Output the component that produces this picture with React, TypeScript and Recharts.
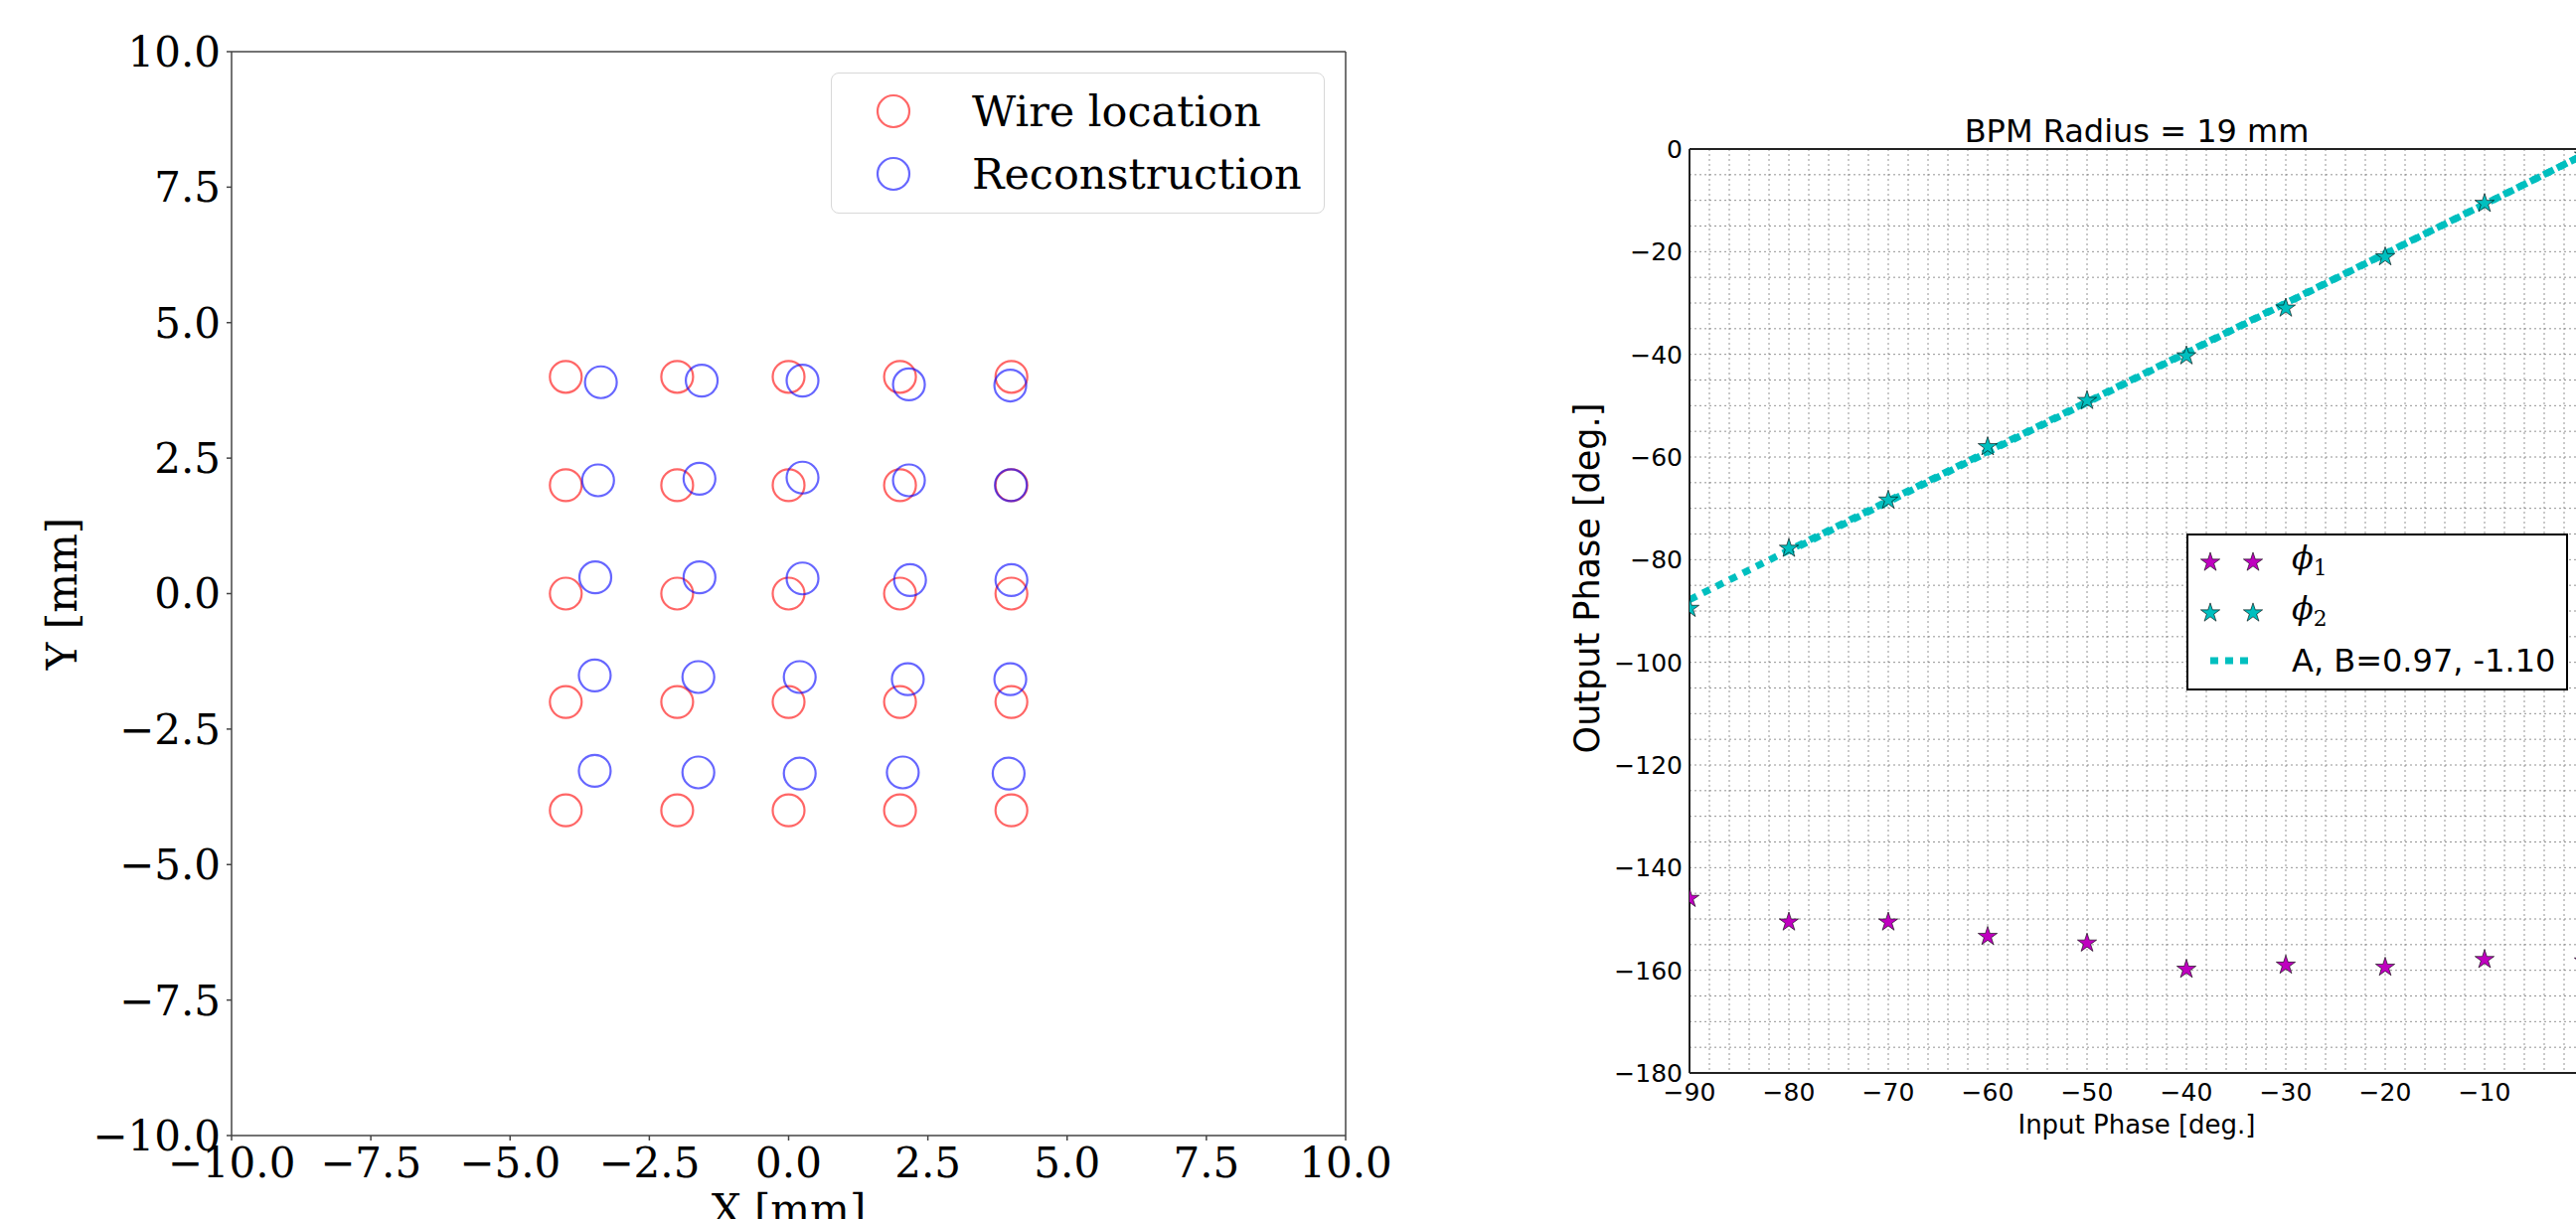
import React from "react";
import {
  ScatterChart,
  ComposedChart,
  Scatter,
  Line,
  XAxis,
  YAxis,
  ZAxis,
  CartesianGrid,
  ReferenceLine,
  Legend,
  Label,
  Symbols,
} from "recharts";

// ---- left panel: wire scan, positions in mm ----
const wireLocation = [
  { x: -4, y: 4 }, { x: -2, y: 4 }, { x: 0, y: 4 }, { x: 2, y: 4 }, { x: 4, y: 4 },
  { x: -4, y: 2 }, { x: -2, y: 2 }, { x: 0, y: 2 }, { x: 2, y: 2 }, { x: 4, y: 2 },
  { x: -4, y: 0 }, { x: -2, y: 0 }, { x: 0, y: 0 }, { x: 2, y: 0 }, { x: 4, y: 0 },
  { x: -4, y: -2 }, { x: -2, y: -2 }, { x: 0, y: -2 }, { x: 2, y: -2 }, { x: 4, y: -2 },
  { x: -4, y: -4 }, { x: -2, y: -4 }, { x: 0, y: -4 }, { x: 2, y: -4 }, { x: 4, y: -4 },
];

const reconstruction = [
  { x: -3.37, y: 3.9 }, { x: -1.56, y: 3.93 }, { x: 0.25, y: 3.93 }, { x: 2.16, y: 3.86 }, { x: 3.98, y: 3.84 },
  { x: -3.42, y: 2.09 }, { x: -1.6, y: 2.12 }, { x: 0.25, y: 2.14 }, { x: 2.16, y: 2.09 }, { x: 3.99, y: 2.0 },
  { x: -3.47, y: 0.3 }, { x: -1.6, y: 0.3 }, { x: 0.25, y: 0.28 }, { x: 2.18, y: 0.25 }, { x: 4.0, y: 0.25 },
  { x: -3.48, y: -1.51 }, { x: -1.62, y: -1.54 }, { x: 0.2, y: -1.54 }, { x: 2.14, y: -1.58 }, { x: 3.98, y: -1.58 },
  { x: -3.48, y: -3.27 }, { x: -1.62, y: -3.3 }, { x: 0.2, y: -3.32 }, { x: 2.05, y: -3.3 }, { x: 3.95, y: -3.32 },
];

const mmTicks = [-10, -7.5, -5, -2.5, 0, 2.5, 5, 7.5, 10];
const leftNames = ["Wire location", "Reconstruction"];

// ---- right panel: phase response ----
const inputPhase = [-90, -80, -70, -60, -50, -40, -30, -20, -10, 0];
const phi1 = [-146.0, -150.6, -150.6, -153.4, -154.7, -159.8, -159.0, -159.4, -157.9, -158.2];
const phi2 = [-89.5, -77.8, -68.4, -58.0, -49.0, -40.3, -31.0, -21.0, -10.6, -1.2];
const fitX = [-90, 0];
const fitY = [-87.8, -1.1];
// second copy of the fit drawn over the measured span (no legend entry)
const fitX2 = [-80, 0];
const fitY2 = [-78.4, -1.1];

const phaseTicksX = [-90, -80, -70, -60, -50, -40, -30, -20, -10, 0];
const phaseTicksY = [-180, -160, -140, -120, -100, -80, -60, -40, -20, 0];
const rightNames = ["\u03d51", "\u03d52", "A, B=0.97, -1.10"];

const range = (a: number, b: number, step: number) => {
  const out: number[] = [];
  for (let v = a; v <= b + 1e-9; v += step) out.push(v);
  return out;
};

const phi1Points = inputPhase.map((x, i) => ({ x, y: phi1[i] }));
const phi2Points = inputPhase.map((x, i) => ({ x, y: phi2[i] }));
const fitPoints = fitX.map((x, i) => ({ x, y: fitY[i] }));
const fitPoints2 = fitX2.map((x, i) => ({ x, y: fitY2[i] }));

const MAGENTA = "#bf00bf";
const CYAN = "#00bfbf";

const fmtMm = (v: number) => (v < 0 ? "\u2212" + Math.abs(v).toFixed(1) : v.toFixed(1));
const fmtDeg = (v: number) => (v < 0 ? "\u2212" + Math.abs(v) : String(v));

const ring = (color: string) => (props: any) => (
  <circle cx={props.cx} cy={props.cy} r={16} fill="none" stroke={color} strokeOpacity={0.6} strokeWidth={2.2} />
);

const RotatedTitle = ({ viewBox, value, dx, dy = 0, fontSize, fontFamily }: any) => {
  const cx = viewBox.x + dx;
  const cy = viewBox.y + viewBox.height / 2 + dy;
  return (
    <text
      x={cx}
      y={cy}
      transform={`rotate(-90 ${cx} ${cy})`}
      textAnchor="middle"
      dominantBaseline="central"
      fontSize={fontSize}
      fontFamily={fontFamily}
      fill="#000"
    >
      {value}
    </text>
  );
};

const ringColors: Record<string, string> = { "Wire location": "red", Reconstruction: "blue" };

const byOrder = (payload: any[], names: string[]) =>
  [...(payload || [])]
    .filter((e) => names.includes(e.value))
    .sort((a, b) => names.indexOf(a.value) - names.indexOf(b.value));

const LeftLegend = ({ payload }: any) => (
  <div
    style={{
      position: "relative",
      width: 497,
      height: 142,
      boxSizing: "border-box",
      border: "1.5px solid #d8d8d8",
      borderRadius: 8,
      background: "rgba(255,255,255,0.8)",
      fontFamily: "DejaVu Serif",
      fontSize: 43,
      color: "#000",
    }}
  >
    {byOrder(payload, leftNames).map((e: any, i: number) => (
      <div key={e.value} style={{ position: "absolute", left: 0, top: 38 + i * 63 - 30, height: 60, display: "flex", alignItems: "center" }}>
        <svg width={141} height={60} style={{ display: "block" }}>
          <circle cx={62} cy={30} r={16} fill="none" stroke={ringColors[e.value]} strokeOpacity={0.6} strokeWidth={2.2} />
        </svg>
        <span style={{ whiteSpace: "nowrap", lineHeight: "60px" }}>{e.value}</span>
      </div>
    ))}
  </div>
);

const PhaseName = ({ name }: { name: string }) => {
  if (name.startsWith("\u03d5")) {
    return (
      <span style={{ fontFamily: "DejaVu Serif", fontStyle: "italic" }}>
        {"\u03d5"}
        <sub style={{ fontSize: "0.68em", fontStyle: "normal", verticalAlign: "-0.3em" }}>{name.slice(1)}</sub>
      </span>
    );
  }
  return <span>{name}</span>;
};

const RightLegend = ({ payload }: any) => (
  <div
    style={{
      position: "relative",
      width: 384,
      height: 158,
      boxSizing: "border-box",
      border: "2px solid #000",
      background: "#fff",
      fontFamily: "DejaVu Sans",
      fontSize: 32,
      color: "#000",
    }}
  >
    {byOrder(payload, rightNames).map((e: any, i: number) => {
      const cy = [27, 78, 126][i];
      const isLine = e.type === "line";
      return (
        <div key={e.value} style={{ position: "absolute", left: 0, top: cy - 25, height: 50, display: "flex", alignItems: "center" }}>
          <svg width={104} height={50} style={{ display: "block" }}>
            {isLine ? (
              <line x1={22} y1={25} x2={65} y2={25} stroke={e.color} strokeWidth={7} strokeDasharray="8 7" />
            ) : (
              <>
                <Symbols type="star" size={115} cx={22} cy={25} fill={e.color} stroke="#000" strokeWidth={0.6} />
                <Symbols type="star" size={115} cx={65} cy={25} fill={e.color} stroke="#000" strokeWidth={0.6} />
              </>
            )}
          </svg>
          <span style={{ whiteSpace: "nowrap", lineHeight: "50px" }}>
            <PhaseName name={e.value} />
          </span>
        </div>
      );
    })}
  </div>
);

const serifTick = { fontSize: 42, fill: "#000", fontFamily: "DejaVu Serif" };
const sansTick = { fontSize: 25, fill: "#000", fontFamily: "DejaVu Sans" };

export default function App() {
  return (
    <div
      style={{
        position: "fixed",
        left: 0,
        top: 0,
        width: 2592,
        height: 1227,
        overflow: "hidden",
        background: "#fff",
      }}
    >
      <div style={{ position: "absolute", left: 0, top: 0 }}>
        <ScatterChart width={1400} height={1227} margin={{ top: 52, right: 46, bottom: 24, left: 133 }}>
          <XAxis
            type="number"
            dataKey="x"
            domain={[-10, 10]}
            ticks={mmTicks}
            interval={0}
            tickFormatter={fmtMm}
            tick={serifTick}
            height={60}
            tickSize={5}
            tickMargin={7}
            stroke="#444"
            strokeWidth={1.5}
          >
            <Label value="X [mm]" position="bottom" offset={-1} fontSize={42} fontFamily="DejaVu Serif" fill="#000" />
          </XAxis>
          <YAxis
            type="number"
            dataKey="y"
            domain={[-10, 10]}
            ticks={mmTicks}
            interval={0}
            tickFormatter={fmtMm}
            tick={serifTick}
            width={100}
            tickSize={5}
            tickMargin={6}
            stroke="#444"
            strokeWidth={1.5}
          >
            <Label
              content={(p: any) => <RotatedTitle viewBox={p.viewBox} value="Y [mm]" dx={-71} fontSize={42} fontFamily="DejaVu Serif" />}
            />
          </YAxis>
          <ReferenceLine y={10} stroke="#444" strokeWidth={1.5} />
          <ReferenceLine x={10} stroke="#444" strokeWidth={1.5} />
          <Scatter name="Wire location" data={wireLocation} fill="none" shape={ring("red")} isAnimationActive={false} />
          <Scatter name="Reconstruction" data={reconstruction} fill="none" shape={ring("blue")} isAnimationActive={false} />
          <Legend
            layout="vertical"
            align="center"
            verticalAlign="middle"
            content={<LeftLegend />}
            wrapperStyle={{ left: 836, top: 73, width: 497, height: 142 }}
          />
        </ScatterChart>
      </div>

      <div style={{ position: "absolute", left: 1400, top: 0 }}>
        <ComposedChart width={1300} height={1227} margin={{ top: 150, right: 100, bottom: 67, left: 200 }}>
          <CartesianGrid
            verticalValues={range(-90, 0, 2)}
            horizontalValues={range(-180, 0, 5)}
            stroke="#666"
            strokeOpacity={0.7}
            strokeDasharray="2 3"
          />
          <XAxis
            type="number"
            dataKey="x"
            domain={[-90, 0]}
            ticks={phaseTicksX}
            interval={0}
            allowDataOverflow
            tickFormatter={fmtDeg}
            tick={sansTick}
            tickLine={false}
            tickSize={0}
            tickMargin={10}
            height={80}
            stroke="#222"
            strokeWidth={2}
          >
            <Label value="Input Phase [deg.]" position="insideBottom" offset={19} fontSize={26} fontFamily="DejaVu Sans" fill="#000" />
          </XAxis>
          <YAxis
            type="number"
            dataKey="y"
            domain={[-180, 0]}
            ticks={phaseTicksY}
            interval={0}
            allowDataOverflow
            tickFormatter={fmtDeg}
            tick={sansTick}
            tickLine={false}
            tickSize={0}
            tickMargin={7}
            width={100}
            stroke="#222"
            strokeWidth={2}
          >
            <Label
              content={(p: any) => (
                <RotatedTitle viewBox={p.viewBox} value="Output Phase [deg.]" dx={-3} dy={-33} fontSize={35} fontFamily="DejaVu Sans" />
              )}
            />
          </YAxis>
          <ZAxis type="number" range={[115, 115]} />
          <ReferenceLine y={0} stroke="#222" strokeWidth={2}>
            <Label value="BPM Radius = 19 mm" position="top" offset={7} fontSize={32} fontFamily="DejaVu Sans" fill="#000" />
          </ReferenceLine>
          <ReferenceLine x={0} stroke="#222" strokeWidth={2} />
          <Line
            name="A, B=0.97, -1.10"
            data={fitPoints}
            dataKey="y"
            stroke={CYAN}
            strokeWidth={7}
            strokeDasharray="8 7"
            dot={false}
            activeDot={false}
            legendType="line"
            isAnimationActive={false}
          />
          <Line
            name="fit (measured span)"
            data={fitPoints2}
            dataKey="y"
            stroke={CYAN}
            strokeWidth={7}
            strokeDasharray="8 7"
            strokeDashoffset={3}
            dot={false}
            activeDot={false}
            legendType="none"
            isAnimationActive={false}
          />
          <Scatter name={"\u03d51"} data={phi1Points} shape="star" fill={MAGENTA} stroke="#000" strokeWidth={0.6} isAnimationActive={false} />
          <Scatter name={"\u03d52"} data={phi2Points} shape="star" fill={CYAN} stroke="#000" strokeWidth={0.6} isAnimationActive={false} />
          <Legend
            layout="vertical"
            align="center"
            verticalAlign="middle"
            content={<RightLegend />}
            wrapperStyle={{ left: 800, top: 537, width: 384, height: 158 }}
          />
        </ComposedChart>
      </div>
    </div>
  );
}
